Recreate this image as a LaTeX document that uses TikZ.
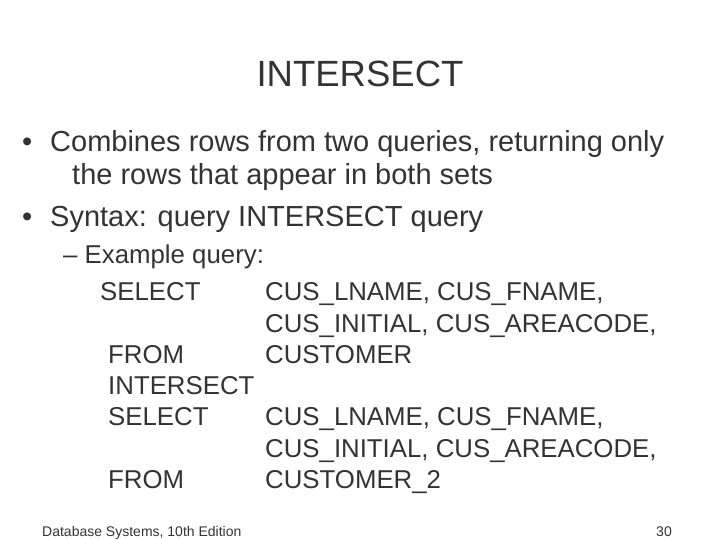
\documentclass[tikz,border=0pt]{standalone}
\usepackage{fontspec}
\setmainfont{Liberation Sans}
\definecolor{slidetext}{HTML}{333333}
\begin{document}
\begin{tikzpicture}[x=1pt,y=-1pt,
  txt/.style = {anchor=base west, inner sep=0pt, text=slidetext},
  body/.style = {txt, font=\fontsize{29}{34}\selectfont},
  sub/.style = {txt, font=\fontsize{25.8}{30}\selectfont}
]
\useasboundingbox (0,0) rectangle (720,540);

% title
\node[txt, anchor=base, font=\fontsize{36.5}{42}\selectfont] (title) at (360,87) {INTERSECT};

% bullets
\node[body] (b1) at (22,152) {•};
\node[body] (l1) at (50,152) {Combines rows from two queries, returning only};
\node[body] (l2) at (72,185) {the rows that appear in both sets};
\node[body] (b2) at (22,226) {•};
\node[body] (l3) at (50,226) {Syntax: query INTERSECT query};

% example
\node[sub] (ex) at (63,263) {– Example query:};
\node[sub] (k1) at (100,300) {SELECT};
\node[sub] (v1) at (265,300) {CUS\_LNAME, CUS\_FNAME,};
\node[sub] (v2) at (265,332) {CUS\_INITIAL, CUS\_AREACODE,};
\node[sub] (k2) at (108,363) {FROM};
\node[sub] (v3) at (265,363) {CUSTOMER};
\node[sub] (k3) at (108,394) {INTERSECT};
\node[sub] (k4) at (108,425) {SELECT};
\node[sub] (v4) at (265,425) {CUS\_LNAME, CUS\_FNAME,};
\node[sub] (v5) at (265,457) {CUS\_INITIAL, CUS\_AREACODE,};
\node[sub] (k5) at (108,488) {FROM};
\node[sub] (v6) at (265,488) {CUSTOMER\_2};

% footer
\node[txt, font=\fontsize{14}{16}\selectfont] (foot) at (42,536) {Database Systems, 10th Edition};
\node[txt, anchor=base east, font=\fontsize{14}{16}\selectfont] (page) at (672,536) {30};
\end{tikzpicture}
\end{document}
